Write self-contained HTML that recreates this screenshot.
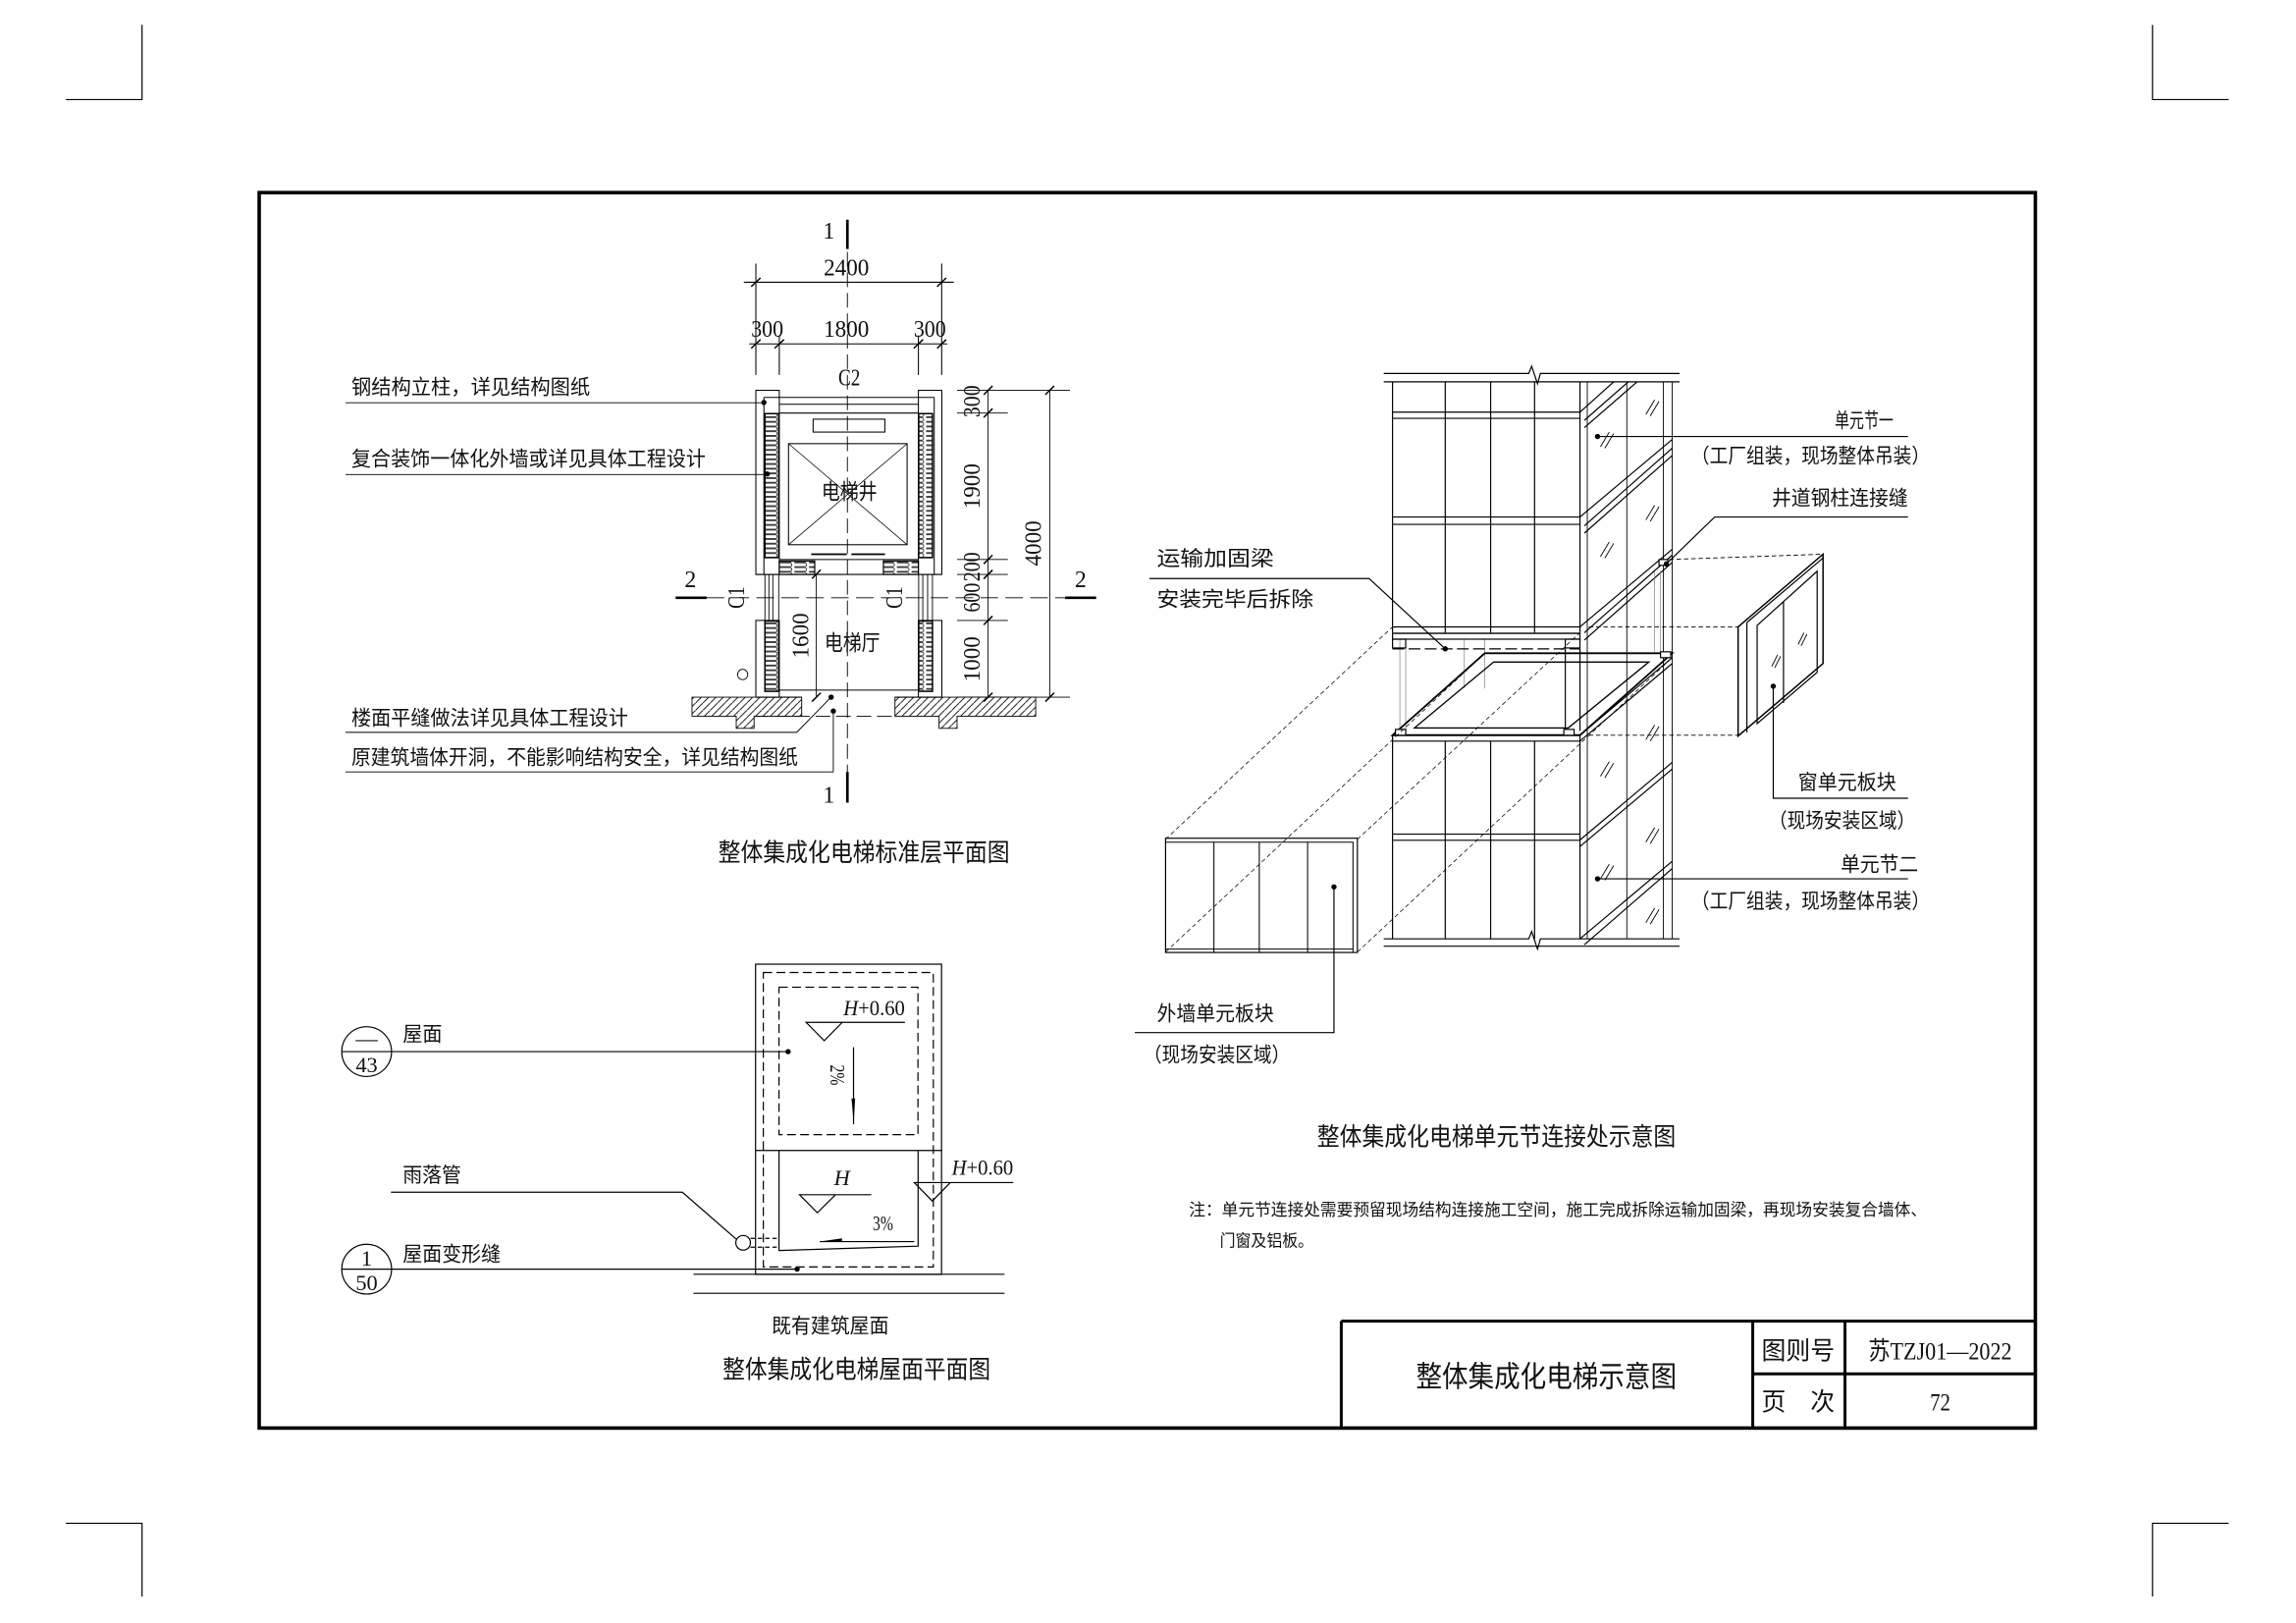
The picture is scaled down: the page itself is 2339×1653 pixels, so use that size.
<!DOCTYPE html>
<html><head><meta charset="utf-8"><style>
html,body{margin:0;padding:0;background:#fff}
svg{display:block}
text{font-family:"Liberation Sans","Noto Sans CJK SC",sans-serif;fill:#111}
text.n{font-family:"Liberation Serif",serif}
</style></head><body>
<svg width="2339" height="1653" viewBox="0 0 1568 1108.1" preserveAspectRatio="none" xmlns="http://www.w3.org/2000/svg">
<defs>
<pattern id="zz" patternUnits="userSpaceOnUse" width="10" height="3.2" x="522" y="0">
<path d="M0.5 0.3 H7.5 A1.3 1.3 0 0 1 7.5 2.9 H0.5" fill="none" stroke="#000" stroke-width="0.5"/>
</pattern>
<pattern id="hat" patternUnits="userSpaceOnUse" width="5" height="5">
<path d="M0 5 L5 0" stroke="#000" stroke-width="0.6"/>
</pattern>
</defs>
<rect width="1568" height="1108.1" fill="#fff"/>
<g stroke="#000" fill="none" stroke-width="0.8">
<path d="M97 17V68H45M1470 17V68H1522M45 1040H97V1090M1522 1040H1470V1090"/>
<rect x="177" y="131.5" width="1213" height="843.5" stroke-width="2.4"/>
<path d="M916 902H1390M916 902V975M1197 902V975M1260 902V975M1197 938H1390" stroke-width="2"/>
</g>
<text x="1056" y="947" font-size="20" text-anchor="middle" textLength="178" lengthAdjust="spacingAndGlyphs">整体集成化电梯示意图</text>
<text x="1228" y="928" font-size="17" text-anchor="middle" textLength="50" lengthAdjust="spacingAndGlyphs">图则号</text>
<text class="n" x="1325" y="928" font-size="17" text-anchor="middle" textLength="98" lengthAdjust="spacingAndGlyphs">苏TZJ01—2022</text>
<text x="1228" y="963" font-size="17" text-anchor="middle" textLength="50" lengthAdjust="spacingAndGlyphs">页　次</text>
<text class="n" x="1325" y="963" font-size="17" text-anchor="middle" textLength="14" lengthAdjust="spacingAndGlyphs">72</text>

<g stroke="#000" fill="none" stroke-width="0.7">
<path d="M578.7 150V170" stroke-width="1.8"/>
<path d="M578.7 527V548" stroke-width="1.8"/>
<path d="M578.7 172V527" stroke-dasharray="10 4" stroke-width="0.6"/>
<path d="M508 192.7H651.4M511.7 234.8H647M516.2 180V256M643.1 180V256M532.2 229V256M627.2 229V256"/>
<path d="M513 195.7L519.4 189.7M640 195.7L646.2 189.7M513 237.8L519.4 231.8M529 237.8L535.4 231.8M624 237.8L630.4 231.8M640 237.8L646.2 231.8" stroke-width="1"/>
<rect x="516.2" y="266.5" width="16" height="125.7"/>
<rect x="627.2" y="266.5" width="16" height="125.7"/>
<path d="M521.7 271.3H638M521.7 271.3V392.2M638 271.3V392.2M532.2 276H627.2M532.2 282H627.2"/>
<rect x="555.3" y="286.2" width="49" height="8.8"/>
<rect x="538.5" y="302.9" width="81" height="69"/>
<path d="M538.5 302.9L619.5 371.9M619.5 302.9L538.5 371.9" stroke-width="0.5"/>
<path d="M554 378.4H578.3M581.4 378.4H604.4" stroke-width="1.2"/>
<path d="M516.2 392.2H643.1M532.2 382H627.2"/>
</g>
<rect x="522.4" y="282.4" width="9.4" height="98.3" fill="url(#zz)" stroke="#000" stroke-width="1"/>
<rect x="627.4" y="282.4" width="9.4" height="98.3" fill="url(#zz)" stroke="#000" stroke-width="1"/>
<rect x="532.2" y="383" width="24.2" height="9.2" fill="url(#zz)" stroke="#000" stroke-width="0.8"/>
<rect x="603.3" y="383" width="23.9" height="9.2" fill="url(#zz)" stroke="#000" stroke-width="0.8"/>
<g stroke="#000" fill="none" stroke-width="0.6">
<path d="M522.4 392.2V423.6M525.1 392.2V423.6M527.8 392.2V423.6M531.8 392.2V423.6M627.4 392.2V423.6M630.2 392.2V423.6M633.5 392.2V423.6M636.8 392.2V423.6"/>
<rect x="516.2" y="423.6" width="16" height="52.4" stroke-width="0.7"/>
<rect x="627.2" y="423.6" width="16" height="52.4" stroke-width="0.7"/>
<path d="M532.2 471.2H627.2M516.2 476H547.5M611.2 476H643.1" stroke-width="0.7"/>
<circle cx="507.2" cy="460.5" r="3.5"/>
<path d="M482.6 408.1H727.4" stroke-dasharray="12 5"/>
<path d="M461.4 408.1H482.6M727.4 408.1H748.6" stroke-width="1.8"/>
<path d="M557.5 392.2V476"/>
<path d="M554.5 395L560.5 389M554.5 479L560.5 473" stroke-width="1"/>
<path d="M674.8 266.5V476M716.9 266.5V476"/>
<path d="M653.6 266.5H730.7M653.6 282H688.3M653.6 382H688.3M653.6 392.2H688.3M653.6 423.6H688.3M653.6 476H730.7"/>
<path d="M671.8 269.5L677.8 263.5M671.8 285L677.8 279M671.8 385L677.8 379M671.8 395.2L677.8 389.2M671.8 426.6L677.8 420.6M671.8 479L677.8 473M713.9 269.5L719.9 263.5M713.9 479L719.9 473" stroke-width="1"/>
<path d="M515 489H611" stroke-dasharray="10 4"/>
<path d="M236 275H521.7M236 324H524M236 500H544.1L567.6 476M236 527H569.1V485.5"/>
</g>
<rect x="522.4" y="424" width="9.4" height="48" fill="url(#zz)" stroke="#000" stroke-width="1"/>
<rect x="627.4" y="424" width="9.4" height="48" fill="url(#zz)" stroke="#000" stroke-width="1"/>
<g fill="#000">
<circle cx="521.7" cy="274.8" r="1.8"/><circle cx="524" cy="323.6" r="1.8"/><circle cx="567.6" cy="476" r="1.8"/><circle cx="569.1" cy="485.5" r="1.8"/>
</g>
<path d="M472.6 476H547.5V489H515V497.3H502.8V489H472.6Z" fill="url(#hat)" stroke="#000" stroke-width="0.6"/>
<path d="M611.2 476H707.3V489H653.6V497.3H641.3V489H611.2Z" fill="url(#hat)" stroke="#000" stroke-width="0.6"/>
<g font-size="16">
<text class="n" x="566" y="163" text-anchor="middle">1</text>
<text class="n" x="566" y="548" text-anchor="middle">1</text>
<text class="n" x="578" y="188" text-anchor="middle" textLength="31" lengthAdjust="spacingAndGlyphs">2400</text>
<text class="n" x="524" y="230" text-anchor="middle" textLength="22" lengthAdjust="spacingAndGlyphs">300</text>
<text class="n" x="578" y="230" text-anchor="middle" textLength="31" lengthAdjust="spacingAndGlyphs">1800</text>
<text class="n" x="635" y="230" text-anchor="middle" textLength="22" lengthAdjust="spacingAndGlyphs">300</text>
<text class="n" x="580" y="263" text-anchor="middle" textLength="15" lengthAdjust="spacingAndGlyphs">C2</text>
<text class="n" x="471.5" y="401" text-anchor="middle">2</text>
<text class="n" x="738" y="401" text-anchor="middle">2</text>
<text x="580" y="341" text-anchor="middle" font-size="15" textLength="38" lengthAdjust="spacingAndGlyphs">电梯井</text>
<text x="582" y="444" text-anchor="middle" font-size="15" textLength="38" lengthAdjust="spacingAndGlyphs">电梯厅</text>
<text class="n" transform="translate(508,408) rotate(-90)" text-anchor="middle" textLength="15" lengthAdjust="spacingAndGlyphs">C1</text>
<text class="n" transform="translate(616,408) rotate(-90)" text-anchor="middle" textLength="15" lengthAdjust="spacingAndGlyphs">C1</text>
<text class="n" transform="translate(552,434) rotate(-90)" text-anchor="middle" textLength="31" lengthAdjust="spacingAndGlyphs">1600</text>
<text class="n" transform="translate(669,274) rotate(-90)" text-anchor="middle" textLength="22" lengthAdjust="spacingAndGlyphs">300</text>
<text class="n" transform="translate(669,332) rotate(-90)" text-anchor="middle" textLength="31" lengthAdjust="spacingAndGlyphs">1900</text>
<text class="n" transform="translate(669,387) rotate(-90)" text-anchor="middle" textLength="20" lengthAdjust="spacingAndGlyphs">200</text>
<text class="n" transform="translate(669,408) rotate(-90)" text-anchor="middle" textLength="20" lengthAdjust="spacingAndGlyphs">600</text>
<text class="n" transform="translate(669,450) rotate(-90)" text-anchor="middle" textLength="31" lengthAdjust="spacingAndGlyphs">1000</text>
<text class="n" transform="translate(711,371) rotate(-90)" text-anchor="middle" textLength="31" lengthAdjust="spacingAndGlyphs">4000</text>
</g>
<g font-size="14">
<text x="240" y="269" textLength="163" lengthAdjust="spacingAndGlyphs">钢结构立柱，详见结构图纸</text>
<text x="240" y="318" textLength="242" lengthAdjust="spacingAndGlyphs">复合装饰一体化外墙或详见具体工程设计</text>
<text x="240" y="495" textLength="189" lengthAdjust="spacingAndGlyphs">楼面平缝做法详见具体工程设计</text>
<text x="240" y="522" textLength="305" lengthAdjust="spacingAndGlyphs">原建筑墙体开洞，不能影响结构安全，详见结构图纸</text>
</g>
<text x="590" y="588" font-size="17" text-anchor="middle" textLength="199" lengthAdjust="spacingAndGlyphs">整体集成化电梯标准层平面图</text>

<g stroke="#000" fill="none" stroke-width="0.8">
<rect x="516" y="658.3" width="127" height="211.8"/>
<rect x="521.3" y="664" width="116.1" height="201" stroke-dasharray="6 3"/>
<rect x="532" y="674" width="94.9" height="100.7" stroke-dasharray="6 3"/>
<path d="M516 785.5H643M532 785.5V853.8L627 850.8V785.5"/>
<path d="M550.5 698H618M550.5 698H575.2L562.9 710.5Z"/>
<path d="M582.9 715V767.6"/>
<path d="M546 815.7H595M546 815.7H570.6L558.2 828Z"/>
<path d="M624.4 807.4H692M624.4 807.4H649L636.7 820Z"/>
<path d="M559.8 847.7H624.4"/>
<path d="M512.5 845.5H532M512.5 851.5H532" stroke-dasharray="3 2"/>
<circle cx="507.5" cy="848.5" r="5"/>
<path d="M267 718H538.2M267 814H466L502.8 846M267 866.5H544.4"/>
<path d="M473.6 870H686M473.6 883H686"/>
<circle cx="250.4" cy="718" r="17"/>
<circle cx="250.4" cy="866.5" r="17"/>
<path d="M233.4 718H267.4M233.4 866.5H267.4"/>
</g>
<path d="M581.5 750L584 750L583 767Z M559.8 847.7L575 845.5L575 847.7Z" fill="#000"/>
<circle cx="538.2" cy="718" r="1.8" fill="#000"/>
<circle cx="544.4" cy="866.5" r="1.8" fill="#000"/>
<g font-size="15">
<text class="n" x="597" y="693" text-anchor="middle" textLength="42" lengthAdjust="spacingAndGlyphs"><tspan font-style="italic">H</tspan>+0.60</text>
<text class="n" x="671" y="802" text-anchor="middle" textLength="42" lengthAdjust="spacingAndGlyphs"><tspan font-style="italic">H</tspan>+0.60</text>
<text class="n" x="575" y="809" text-anchor="middle" font-style="italic">H</text>
<text class="n" x="603" y="840" text-anchor="middle" font-size="14" textLength="14" lengthAdjust="spacingAndGlyphs">3%</text>
<text class="n" transform="translate(567,734) rotate(90)" text-anchor="middle" font-size="14" textLength="14" lengthAdjust="spacingAndGlyphs">2%</text>
<text class="n" x="250.4" y="714" text-anchor="middle">—</text>
<text class="n" x="250.4" y="732" text-anchor="middle" textLength="15" lengthAdjust="spacingAndGlyphs">43</text>
<text class="n" x="250.4" y="864" text-anchor="middle">1</text>
<text class="n" x="250.4" y="881" text-anchor="middle" textLength="15" lengthAdjust="spacingAndGlyphs">50</text>
</g>
<g font-size="14">
<text x="275" y="711" textLength="27" lengthAdjust="spacingAndGlyphs">屋面</text>
<text x="275" y="807" textLength="40" lengthAdjust="spacingAndGlyphs">雨落管</text>
<text x="275" y="861" textLength="67" lengthAdjust="spacingAndGlyphs">屋面变形缝</text>
<text x="567" y="910" text-anchor="middle" textLength="80" lengthAdjust="spacingAndGlyphs">既有建筑屋面</text>
</g>
<text x="585" y="941" font-size="17" text-anchor="middle" textLength="183" lengthAdjust="spacingAndGlyphs">整体集成化电梯屋面平面图</text>

<g stroke="#000" fill="none" stroke-width="0.8">
<path d="M945 255H1044L1046 250L1050 262L1052 255H1147M945 260.7H1147"/>
<path d="M945 641H1044L1046 636L1050 648L1052 641H1147M945 646H1147"/>
<path d="M951 260.7V432M987 260.7V432M1018 260.7V432M1048 260.7V432M1079 260.7V432"/>
<path d="M951 502V641M987 506V641M1018 506V641M1048 506V641M1079 502V641"/>
<path d="M951 281.4H1079M951 285.6H1079M951 353H1079M951 358H1079M951 428H1079M951 432.4H1079"/>
<path d="M951 501.7H1079M951 506H1079M951 569.5H1079M951 573.7H1079"/>
<path d="M1142 260.7V641M1136 260.7V641M1111 260.7V641M1084 260.7V641" stroke-width="0.6"/>
<path d="M1082 287L1112 260.7M1082 292L1118 260.7M1082 359L1142 306M1082 364L1142 311M1082 432L1142 379M1082 437L1142 384"/>
<path d="M1079 281.4L1102 260.7M1079 353L1142 300M1079 428L1142 375M1079 502L1142 449M1079 506L1142 453M1079 573.5L1142 520.5M1079 578L1142 525M1079 641L1142 588M1082 645L1142 593"/>
<path d="M1093 305L1099 295M1096 306L1102 296M1124 283L1130 273M1127 284L1133 274M1093 380L1099 370M1096 381L1102 371M1124 355L1130 345M1127 356L1133 346M1093 530L1099 520M1096 531L1102 521M1124 505L1130 495M1127 506L1133 496M1093 600L1099 590M1096 601L1102 591M1124 575L1130 565M1127 576L1133 566M1124 630L1130 620M1127 631L1133 621" stroke-width="0.6"/>
<path d="M956 436V500M960 436V500M1000 436V470M1014 436V470M1130 390V445M1134 390V445" stroke="#888" stroke-width="0.5"/>
<rect x="951" y="432.4" width="128" height="4"/>
<rect x="951" y="436.4" width="9" height="6"/><rect x="1069" y="436.4" width="10" height="6"/>
<path d="M951 443H1079" stroke-dasharray="8 3"/>
<path d="M1069 443V499M1079 443V499"/>
<path d="M951 502L1014 446H1142L1079 502Z" stroke-width="1.2"/>
<path d="M966 497L1020 452H1126L1071 497Z" stroke-width="0.9"/>
<rect x="953" y="498" width="7" height="4" fill="#fff"/><rect x="1068" y="498" width="7" height="4" fill="#fff"/><rect x="1134" y="445" width="7" height="4" fill="#fff"/>
<rect x="1133" y="382" width="6" height="4" fill="#fff"/>
<path d="M1187 428L1245 378.4V453L1187 502.5Z" stroke-width="1"/>
<path d="M1193 425V500M1193 425L1245 381M1200 427V494L1241 459V390ZM1218 411V480"/>
<path d="M1210 455L1214 447M1212 456L1216 448M1228 440L1232 432M1230 441L1234 433" stroke-width="0.6"/>
<path d="M1085 428H1187M1085 502H1187M1140 382L1245 378.4" stroke-dasharray="3 2" stroke-width="0.6"/>
<rect x="796" y="572.3" width="131" height="78"/>
<path d="M796 575H924V650M829 575V650M860 575V650M893 575V650M796 648H924" stroke-width="0.7"/>
<path d="M796 573L951 428M927 573L1079 432M796 650L1014 446M927 650L1142 449" stroke-dasharray="3 2" stroke-width="0.5"/>
<path d="M1091 298H1303M1091 600H1303M1138 385L1171 353H1303M785 395H935L987 443M911 605.5V705H775M1211 468.5V545H1303"/>
</g>
<g fill="#000">
<circle cx="1091" cy="298" r="1.8"/><circle cx="1091" cy="600" r="1.8"/><circle cx="1138" cy="385" r="1.8"/><circle cx="987" cy="443" r="1.8"/><circle cx="911" cy="605.5" r="1.8"/><circle cx="1211" cy="468.5" r="1.8"/>
</g>
<g font-size="14">
<text x="1253" y="292" textLength="40" lengthAdjust="spacingAndGlyphs">单元节一</text>
<text x="1155" y="316" textLength="163" lengthAdjust="spacingAndGlyphs">（工厂组装，现场整体吊装）</text>
<text x="1210" y="345" textLength="93" lengthAdjust="spacingAndGlyphs">井道钢柱连接缝</text>
<text x="790" y="386" textLength="80" lengthAdjust="spacingAndGlyphs">运输加固梁</text>
<text x="790" y="414" textLength="107" lengthAdjust="spacingAndGlyphs">安装完毕后拆除</text>
<text x="1228" y="539" textLength="67" lengthAdjust="spacingAndGlyphs">窗单元板块</text>
<text x="1208" y="565" textLength="100" lengthAdjust="spacingAndGlyphs">（现场安装区域）</text>
<text x="1257" y="595" textLength="53" lengthAdjust="spacingAndGlyphs">单元节二</text>
<text x="1155" y="620" textLength="163" lengthAdjust="spacingAndGlyphs">（工厂组装，现场整体吊装）</text>
<text x="790" y="697" textLength="80" lengthAdjust="spacingAndGlyphs">外墙单元板块</text>
<text x="781" y="725" textLength="100" lengthAdjust="spacingAndGlyphs">（现场安装区域）</text>
</g>
<text x="1022" y="782" font-size="17" text-anchor="middle" textLength="245" lengthAdjust="spacingAndGlyphs">整体集成化电梯单元节连接处示意图</text>
<text x="812" y="830" font-size="11.5" textLength="504" lengthAdjust="spacingAndGlyphs">注：单元节连接处需要预留现场结构连接施工空间，施工完成拆除运输加固梁，再现场安装复合墙体、</text>
<text x="833" y="851" font-size="11.5" textLength="64" lengthAdjust="spacingAndGlyphs">门窗及铝板。</text>
</svg>
</body></html>
